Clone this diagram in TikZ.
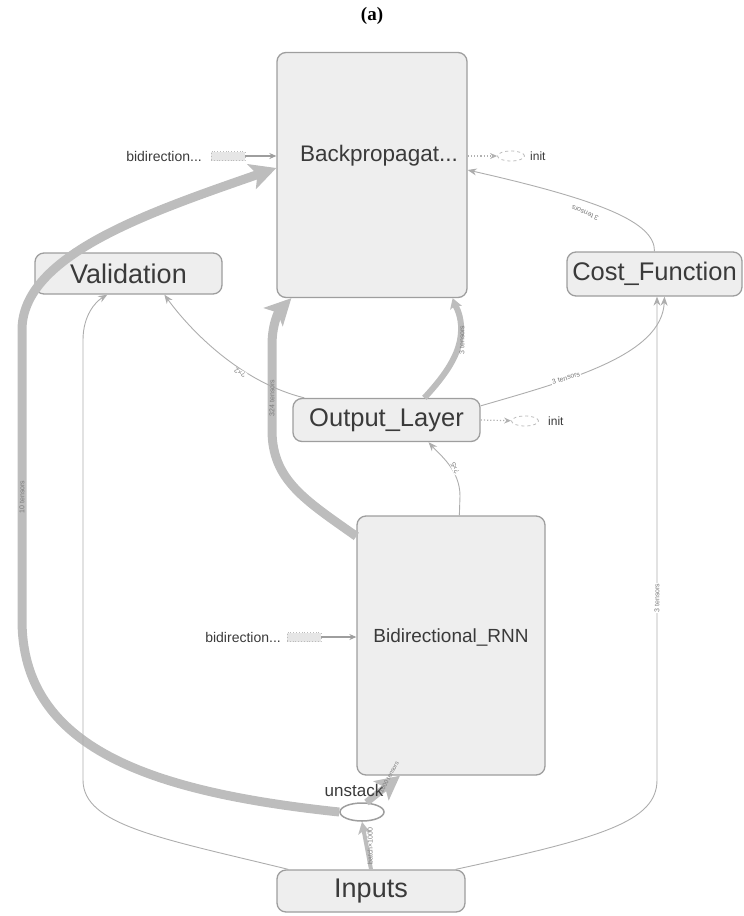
\documentclass[tikz,border=0pt]{standalone}
\usepackage{fontspec}
\setmainfont{Liberation Sans}
\newfontfamily\titlefont{Liberation Serif}
\usetikzlibrary{arrows.meta,shapes.geometric}
\definecolor{boxfill}{HTML}{EEEEEE}
\definecolor{boxline}{HTML}{9E9E9E}
\definecolor{edgeg}{HTML}{BDBDBD}
\definecolor{thing}{HTML}{ADADAD}
\definecolor{txt}{HTML}{3A3A3A}
\definecolor{labg}{HTML}{7A7A7A}
\definecolor{ghostfill}{HTML}{E6E6E6}

\begin{document}
\begin{tikzpicture}[x=1pt,y=-1pt,
  opbox/.style={draw=boxline, fill=boxfill, rounded corners=9pt, line width=1.3pt,
                text=txt, inner sep=0pt},
  optext/.style={text=txt, inner sep=0pt},
  fatedge/.style={draw=edgeg, line width=9pt, -{Stealth[length=26pt,width=26pt,inset=6pt]}},
  midedge/.style={draw=edgeg, line width=6pt, -{Stealth[length=10pt,width=12pt,inset=2pt]}},
  upedge/.style={draw=edgeg, line width=7pt, -{Stealth[length=24pt,width=24pt,inset=5pt]}},
  slimedge/.style={draw=edgeg, line width=4pt, -{Stealth[length=12pt,width=12pt,inset=3pt]}},
  thinedge/.style={draw=thing, line width=0.9pt, -{Stealth[length=9pt,width=7pt]}},
  elab/.style={font=\fontsize{7}{8}\selectfont, text=labg, inner sep=0.8pt},
  elabw/.style={elab, fill=white},
  ghostbox/.style={draw=boxline!70, fill=ghostfill, dotted, line width=0.8pt,
                   minimum width=34pt, minimum height=9pt, inner sep=0pt},
  ghostell/.style={ellipse, draw=boxline!70, dashed, line width=0.8pt,
                   minimum width=27pt, minimum height=10pt, inner sep=0pt},
  smalltxt/.style={font=\fontsize{14}{16}\selectfont, text=txt, inner sep=0pt},
  ctrlin/.style={draw=boxline, line width=1.2pt, -{Stealth[length=7pt,width=6pt]}},
  ctrlout/.style={draw=boxline!80, dotted, line width=1.2pt, -{Stealth[length=7pt,width=6pt]}},
]
\useasboundingbox (0,0) rectangle (744,916);

% caption
\node[font=\titlefont\bfseries\fontsize{19}{22}\selectfont] (title) at (372,16) {(a)};

% operation boxes
\node[opbox, minimum width=190pt, minimum height=245pt] (bp) at (372,175) {};
\node[optext, font=\fontsize{22.5}{26}\selectfont] (bptext) at (379,156) {Backpropagat...};
\node[opbox, minimum width=187pt, minimum height=41pt,
      font=\fontsize{27}{30}\selectfont] (val) at (128.5,273.5) {Validation};
\node[opbox, minimum width=175pt, minimum height=44pt,
      font=\fontsize{25.5}{28}\selectfont] (cost) at (654.5,274) {Cost\_Function};
\node[opbox, minimum width=187pt, minimum height=43pt,
      font=\fontsize{25.5}{28}\selectfont] (out) at (386.5,420) {Output\_Layer};
\node[opbox, minimum width=188pt, minimum height=259pt] (rnn) at (451,645.5) {};
\node[optext, font=\fontsize{19}{22}\selectfont] (rnntext) at (451,637) {Bidirectional\_RNN};
\node[opbox, minimum width=188pt, minimum height=42pt,
      font=\fontsize{27}{30}\selectfont] (inputs) at (371,891) {Inputs};
\node[ellipse, draw=boxline, fill=white, line width=1.5pt,
      minimum width=44pt, minimum height=18pt, inner sep=0pt] (us) at (362,812) {};

% auxiliary inputs and init outputs
\node[ghostbox] (g1) at (228,156) {};
\node[smalltxt, anchor=east] (g1text) at (202,156) {bidirection...};
\draw[ctrlin] (g1) -- (g1 -| bp.west);
\node[ghostell] (i1) at (511,156) {};
\node[smalltxt, font=\fontsize{12}{14}\selectfont, anchor=west] (i1text) at (530,156) {init};
\draw[ctrlout] (bptext -| bp.east) -- (i1);

\node[ghostbox] (g2) at (304,637) {};
\node[smalltxt, anchor=east] (g2text) at (281,637) {bidirection...};
\draw[ctrlin] (g2) -- (g2 -| rnn.west);
\node[ghostell] (i2) at (525,421) {};
\node[smalltxt, font=\fontsize{12}{14}\selectfont, anchor=west] (i2text) at (548,421) {init};
\draw[ctrlout] (out.east) -- (i2);

% data-flow edges
\draw[fatedge] (us.west) .. controls (150,792) and (22,748) .. (22,620)
   -- (22,330) .. controls (22,255) and (150,212) .. ([yshift=7pt]bp.west);
\draw[fatedge] ([yshift=-21pt]rnn.north west) .. controls (305,500) and (272,480) .. (272,430)
   -- (272,345) .. controls (272,322) and (280,310) .. ([xshift=15pt]bp.south west);
\draw[midedge] ([xshift=132pt]out.north west) .. controls (455,365) and (462,345) .. (461,325)
   .. controls (460,312) and (455,305) .. ([xshift=-15pt]bp.south east);
\draw[thinedge] (cost.north) .. controls (655,222) and (600,200) .. ([yshift=5pt]bp.east);
\draw[thinedge] ([xshift=12pt]out.north west) .. controls (240,382) and (190,330) .. ([xshift=130pt]val.south west);
\draw[thinedge] ([yshift=-8pt]out.north east) .. controls (570,380) and (662,355) .. ([xshift=10pt]cost.south);
\draw[thinedge] ([xshift=103pt]rnn.north west) -- (460,496) .. controls (460,470) and (440,455) .. ([xshift=42pt]out.south);
\draw[upedge] (us.65) -- ([xshift=-51pt]rnn.south);
\draw[slimedge] (inputs.north) -- (us.south);
\draw[thinedge] ([xshift=12pt]inputs.north west) .. controls (160,838) and (83,825) .. (83,780)
   -- (83,340) .. controls (83,316) and (95,302) .. ([xshift=73pt]val.south west);
\draw[thinedge] ([xshift=-10pt]inputs.north east) .. controls (600,838) and (657,822) .. (657,780)
   -- ([xshift=2.5pt]cost.south);

% op name drawn over its outgoing edge
\node[optext, font=\fontsize{17}{20}\selectfont] (ustext) at (354,790) {unstack};

% edge labels
\node[elab, rotate=90] (l1) at (22,497) {10 tensors};
\node[elab, rotate=90] (l2) at (272,398) {324 tensors};
\node[elab, rotate=90] (l3) at (462,340) {3 tensors};
\node[elabw, rotate=156] (l4) at (585,213) {3 tensors};
\node[elabw, rotate=153] (l5) at (240,373) {?×2};
\node[elabw, rotate=17] (l6) at (566,378) {3 tensors};
\node[elabw, rotate=115] (l7) at (455,468) {?×5};
\node[elab, rotate=62, font=\fontsize{6}{7}\selectfont] (l8) at (389,777) {1000 tensors};
\node[elab, rotate=90] (l9) at (370,846) {batch×1000};
\node[elabw, rotate=90] (l10) at (657,598) {3 tensors};
\end{tikzpicture}
\end{document}
